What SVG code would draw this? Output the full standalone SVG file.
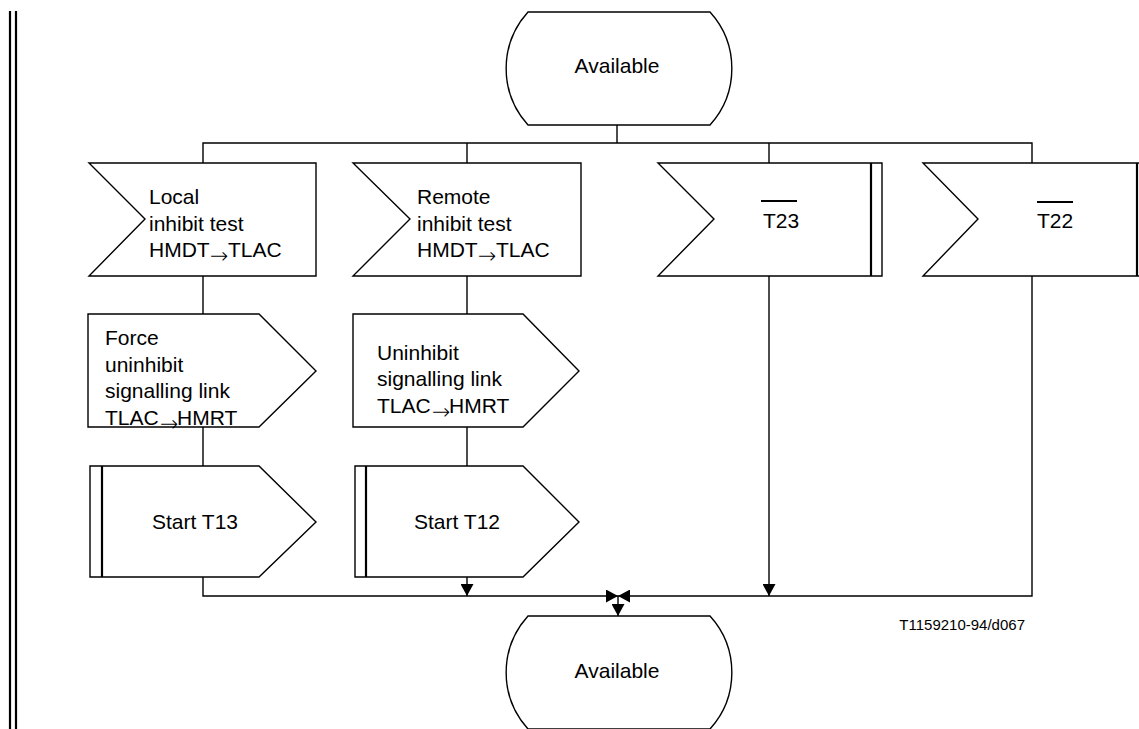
<svg xmlns="http://www.w3.org/2000/svg" width="1139" height="729" viewBox="0 0 1139 729">
<style>
.shape{fill:#fff;stroke:#000;stroke-width:1.4}
.thick{stroke:#000;stroke-width:2.2}
.conn{fill:none;stroke:#000;stroke-width:1.4}
.t{font-family:"Liberation Sans",Arial,sans-serif;font-size:21px;fill:#000}
.ar{font-family:"DejaVu Sans ExtraLight","DejaVu Sans",sans-serif;font-size:22px;font-weight:200}
.small{font-family:"Liberation Sans",Arial,sans-serif;font-size:15px;fill:#000}
</style>
<defs>
<marker id="arr" viewBox="0 0 12 13" refX="12" refY="6.5" markerWidth="12" markerHeight="13" markerUnits="userSpaceOnUse" orient="auto"><path d="M0,0 L12,6.5 L0,13 Z" fill="#000"/></marker>
</defs>
<rect width="1139" height="729" fill="#fff"/>
<g id="border">
<line class="thick" x1="10" y1="11" x2="10" y2="729" stroke-width="2.6"/>
<line class="thick" x1="16" y1="11" x2="16" y2="729" stroke-width="2.6"/>
</g>
<g id="connectors">
<path class="conn" d="M617,125 V143"/>
<path class="conn" d="M203,163 V143 H1032 V163"/>
<path class="conn" d="M467,143 V163"/>
<path class="conn" d="M769,143 V163"/>
<path class="conn" d="M203,276 V314"/>
<path class="conn" d="M203,427 V466"/>
<path class="conn" d="M467,276 V314"/>
<path class="conn" d="M467,427 V466"/>
<path class="conn" d="M203,577 V596 H618" marker-end="url(#arr)"/>
<path class="conn" d="M1032,276 V596 H618" marker-end="url(#arr)"/>
<path class="conn" d="M467,577 V596" marker-end="url(#arr)"/>
<path class="conn" d="M769,276 V596" marker-end="url(#arr)"/>
<path class="conn" d="M618,596 V616" marker-end="url(#arr)"/>
</g>
<g id="state-top">
<path class="shape" d="M528,12 H710 A84,84 0 0 1 710,125 H528 A84,84 0 0 1 528,12 Z"/>
<text class="t" x="617" y="73" text-anchor="middle">Available</text>
</g>
<g id="input-local">
<path class="shape" d="M89,163 H316 V276 H89 L145,219 Z"/>
<text class="t" x="149" y="204">Local</text>
<text class="t" x="149" y="230.5">inhibit test</text>
<text class="t" x="149" y="257">HMDT<tspan class="ar" x="210" y="263">→</tspan><tspan x="228" y="257">TLAC</tspan></text>
</g>
<g id="input-remote">
<path class="shape" d="M353,163 H581 V276 H353 L410,219 Z"/>
<text class="t" x="417" y="204">Remote</text>
<text class="t" x="417" y="230.5">inhibit test</text>
<text class="t" x="417" y="257">HMDT<tspan class="ar" x="478" y="263">→</tspan><tspan x="496" y="257">TLAC</tspan></text>
</g>
<g id="input-t23">
<path class="shape" d="M658,163 H882 V276 H658 L714,219 Z"/>
<line class="thick" x1="871" y1="163" x2="871" y2="276"/>
<line class="thick" x1="761" y1="201" x2="797" y2="201"/>
<text class="t" x="781" y="228" text-anchor="middle">T23</text>
</g>
<g id="input-t22">
<path class="shape" d="M923,163 H1150 V276 H923 L978,219 Z"/>
<line class="thick" x1="1137" y1="163" x2="1137" y2="276"/>
<line class="thick" x1="1037" y1="202" x2="1073" y2="202"/>
<text class="t" x="1055" y="228" text-anchor="middle">T22</text>
</g>
<g id="output-force">
<path class="shape" d="M88,314 H259 L316,371 L259,427 H88 Z"/>
<text class="t" x="105" y="345">Force</text>
<text class="t" x="105" y="372">uninhibit</text>
<text class="t" x="105" y="398">signalling link</text>
<text class="t" x="105" y="425">TLAC<tspan class="ar" x="160" y="431">→</tspan><tspan x="177" y="425">HMRT</tspan></text>
</g>
<g id="output-uninhibit">
<path class="shape" d="M353,314 H523 L579,371 L523,427 H353 Z"/>
<text class="t" x="377" y="360">Uninhibit</text>
<text class="t" x="377" y="386">signalling link</text>
<text class="t" x="377" y="413">TLAC<tspan class="ar" x="432" y="419">→</tspan><tspan x="449" y="413">HMRT</tspan></text>
</g>
<g id="start-t13">
<path class="shape" d="M90,466 H259 L316,522 L259,577 H90 Z"/>
<line class="thick" x1="102" y1="466" x2="102" y2="577"/>
<text class="t" x="195" y="529" text-anchor="middle">Start T13</text>
</g>
<g id="start-t12">
<path class="shape" d="M355,466 H523 L579,522 L523,577 H355 Z"/>
<line class="thick" x1="366" y1="466" x2="366" y2="577"/>
<text class="t" x="457" y="529" text-anchor="middle">Start T12</text>
</g>
<g id="state-bottom">
<path class="shape" d="M528,616 H710 A84,84 0 0 1 710,729 H528 A84,84 0 0 1 528,616 Z"/>
<text class="t" x="617" y="678" text-anchor="middle">Available</text>
</g>
<g id="label">
<text class="small" x="1025" y="630" text-anchor="end">T1159210-94/d067</text>
</g>
</svg>
